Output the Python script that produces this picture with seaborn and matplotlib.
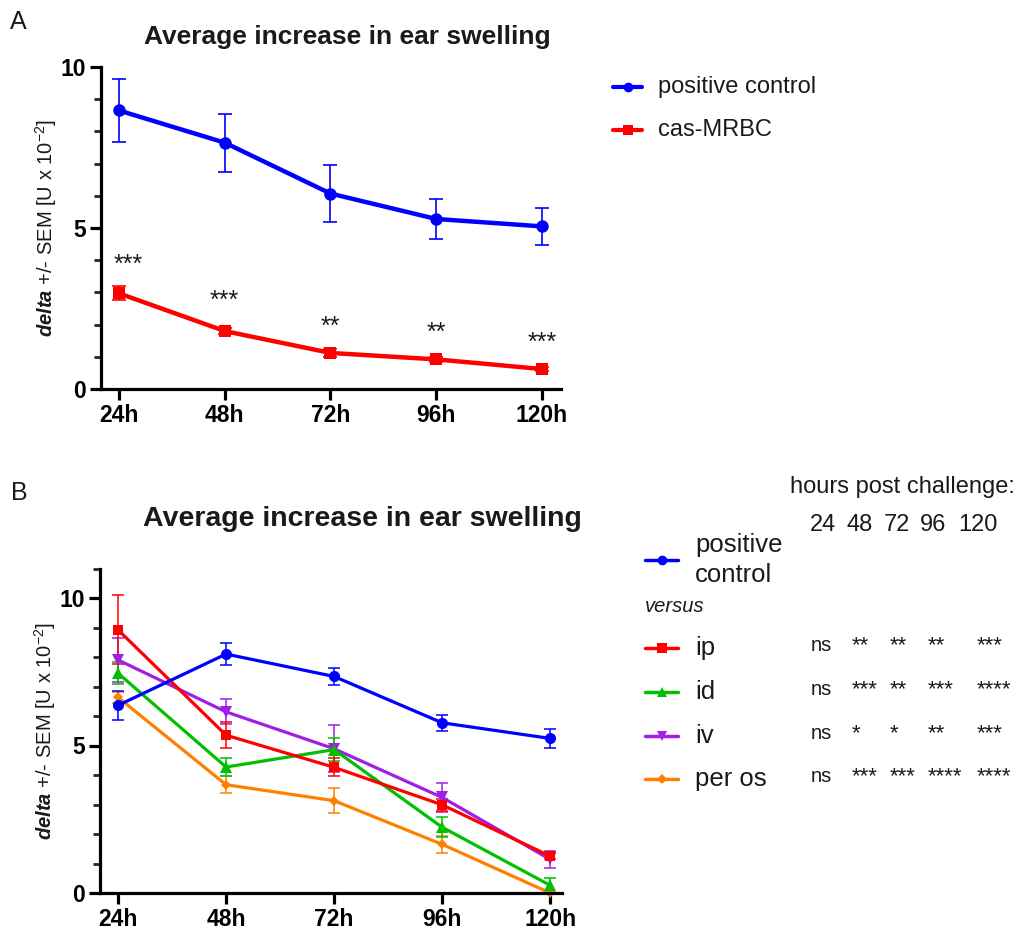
import numpy as np
import pandas as pd
import matplotlib
matplotlib.use("Agg")
import matplotlib.pyplot as plt
import seaborn as sns
from matplotlib.lines import Line2D
from matplotlib.ticker import MultipleLocator, FixedLocator

# ---------------- data ----------------
times = ["24h", "48h", "72h", "96h", "120h"]

# Panel A
a_groups = ["positive control", "cas-MRBC"]
a_pos_mean = [8.65, 7.65, 6.07, 5.28, 5.05]
a_pos_sem = [0.97, 0.90, 0.88, 0.62, 0.58]
a_cas_mean = [2.97, 1.80, 1.12, 0.92, 0.62]
a_cas_sem = [0.22, 0.08, 0.12, 0.07, 0.06]
a_stars = ["***", "***", "**", "**", "***"]
a_star_y = [4.07, 2.95, 2.14, 1.96, 1.65]

# Panel B
b_groups = ["positive control", "ip", "id", "iv", "per os"]
b_pos_mean = [6.36, 8.10, 7.34, 5.77, 5.24]
b_pos_sem = [0.48, 0.37, 0.30, 0.27, 0.33]
b_ip_mean = [8.92, 5.35, 4.26, 2.99, 1.25]
b_ip_sem = [1.17, 0.43, 0.30, 0.20, 0.10]
b_id_mean = [7.45, 4.27, 4.86, 2.23, 0.26]
b_id_sem = [0.38, 0.30, 0.39, 0.33, 0.26]
b_iv_mean = [7.90, 6.14, 4.89, 3.24, 1.14]
b_iv_sem = [0.75, 0.42, 0.80, 0.50, 0.30]
b_os_mean = [6.63, 3.67, 3.13, 1.65, 0.00]
b_os_sem = [0.20, 0.28, 0.42, 0.29, 0.05]

hours = ["24", "48", "72", "96", "120"]
sig_ip = ["ns", "**", "**", "**", "***"]
sig_id = ["ns", "***", "**", "***", "****"]
sig_iv = ["ns", "*", "*", "**", "***"]
sig_os = ["ns", "***", "***", "****", "****"]

# ---------------- style ----------------
sns.set_style("ticks")
plt.rcParams["font.family"] = ["Liberation Sans", "DejaVu Sans"]
plt.rcParams["mathtext.fontset"] = "custom"
plt.rcParams["mathtext.rm"] = "Liberation Sans"
plt.rcParams["mathtext.it"] = "Liberation Sans:italic"
plt.rcParams["mathtext.bf"] = "Liberation Sans:bold"
plt.rcParams["mathtext.bfit"] = "Liberation Sans:italic:bold"

BLUE = "#0000ff"
RED = "#ff0000"
GREEN = "#00c000"
PURPLE = "#a01ee6"
ORANGE = "#ff8000"
TXT = "#1a1a1a"

W, H = 1019, 935
fig = plt.figure(figsize=(W / 100, H / 100), dpi=100)


def fx(x):
    return x / W


def fy(y):
    return 1 - y / H


def make_df(groups, means, sems):
    rows = []
    for g, m, s in zip(groups, means, sems):
        for i, t in enumerate(times):
            rows.append({"group": g, "time": t, "pos": i, "mean": m[i], "sem": s[i]})
    return pd.DataFrame(rows)


def style_axis(ax, ylim_top):
    for sp in ["top", "right"]:
        ax.spines[sp].set_visible(False)
    for sp in ["left", "bottom"]:
        ax.spines[sp].set_linewidth(2.3)
        ax.spines[sp].set_color("black")
    ax.set_xticks(range(len(times)))
    ax.set_xticklabels(times, fontsize=16.5, fontweight="bold")
    ax.yaxis.set_major_locator(FixedLocator([0, 5, 10]))
    ax.yaxis.set_minor_locator(MultipleLocator(1))
    ax.set_ylim(0, ylim_top)
    for lab in ax.get_yticklabels():
        lab.set_fontweight("bold")
        lab.set_fontsize(16.5)
    ax.tick_params(axis="both", which="major", length=8, width=2.3, direction="out", pad=3, colors="black")
    ax.tick_params(axis="y", which="minor", length=5, width=2.0, direction="out")
    ax.tick_params(axis="x", which="minor", length=0)
    ax.set_xlabel("")
    ax.set_ylabel(r"$\mathbfit{delta}$ +/- SEM [U x 10$^{-2}$]", fontsize=14.5, color=TXT, labelpad=1)


def draw(ax, df, order, palette, markers, sizes, lw, elw, cap):
    sns.lineplot(data=df, x="pos", y="mean", hue="group", style="group",
                 hue_order=order, style_order=order, palette=palette,
                 markers=markers, dashes=False, linewidth=lw, markersize=8,
                 markeredgewidth=0, errorbar=None, legend=False, ax=ax, clip_on=False)
    for line, g in zip(ax.get_lines()[-len(order):], order):
        line.set_markersize(sizes[g])
    for g in order:
        sub = df[df["group"] == g]
        ax.errorbar(sub["pos"], sub["mean"], yerr=sub["sem"], fmt="none",
                    ecolor=palette[g], elinewidth=elw, capsize=cap, capthick=elw,
                    zorder=1.5, clip_on=False)


# ---------------- Panel A ----------------
axA = fig.add_axes([fx(101), fy(389), fx(460), 322 / H])
dfA = make_df(a_groups, [a_pos_mean, a_cas_mean], [a_pos_sem, a_cas_sem])
palA = {"positive control": BLUE, "cas-MRBC": RED}
draw(axA, dfA, ["cas-MRBC", "positive control"], palA,
     {"positive control": "o", "cas-MRBC": "s"},
     {"positive control": 9, "cas-MRBC": 8}, lw=3.2, elw=1.2, cap=5)
axA.set_xlim(-0.17, 4.18)
style_axis(axA, 10)
star_dx = [7, 0, 0, 0, 0]
for i, (s, yv) in enumerate(zip(a_stars, a_star_y)):
    axA.annotate(s, (i, yv), xytext=(star_dx[i], -10), textcoords="offset points",
                 ha="center", va="baseline", fontsize=18, color=TXT)

fig.text(fx(347), fy(37), "Average increase in ear swelling", ha="center", va="center",
         fontsize=19, fontweight="bold", color=TXT)
fig.text(fx(18), fy(22), "A", ha="center", va="center", fontsize=18, color=TXT)

# legend A
for lab, col, mk, ms, yy in [("positive control", BLUE, "o", 7, 87), ("cas-MRBC", RED, "s", 6.5, 130)]:
    fig.add_artist(Line2D([fx(613), fx(642)], [fy(yy), fy(yy)], color=col, lw=3,
                          transform=fig.transFigure))
    fig.add_artist(Line2D([fx(627.5)], [fy(yy)], marker=mk, ms=ms, color=col, mew=0,
                          transform=fig.transFigure))
    fig.text(fx(658), fy(yy), lab, ha="left", va="center", fontsize=17, color=TXT)

# ---------------- Panel B ----------------
axB = fig.add_axes([fx(100), fy(893), fx(462), 324.5 / H])
dfB = make_df(b_groups, [b_pos_mean, b_ip_mean, b_id_mean, b_iv_mean, b_os_mean],
              [b_pos_sem, b_ip_sem, b_id_sem, b_iv_sem, b_os_sem])
palB = {"positive control": BLUE, "ip": RED, "id": GREEN, "iv": PURPLE, "per os": ORANGE}
mkB = {"positive control": "o", "ip": "s", "id": "^", "iv": "v", "per os": "D"}
szB = {"positive control": 8, "ip": 7.5, "id": 8, "iv": 8, "per os": 5.5}
draw(axB, dfB, ["per os", "iv", "id", "ip", "positive control"], palB, mkB, szB,
     lw=2.3, elw=1.1, cap=4)
axB.set_xlim(-0.167, 4.11)
style_axis(axB, 11)

fig.text(fx(362), fy(519), "Average increase in ear swelling", ha="center", va="center",
         fontsize=20.5, fontweight="bold", color=TXT)
fig.text(fx(19), fy(493), "B", ha="center", va="center", fontsize=18, color=TXT)

# legend B and significance table
fig.text(fx(790), fy(487), "hours post challenge:", ha="left", va="center", fontsize=17, color=TXT)
for hx, hlab in zip([823, 860, 897, 933, 978], hours):
    fig.text(fx(hx), fy(525), hlab, ha="center", va="center", fontsize=17, color=TXT)

fig.text(fx(645), fy(607), "versus", ha="left", va="center", fontsize=14.5,
         style="italic", color=TXT)

leg_rows = [("positive\ncontrol", "positive control", 560, None),
            ("ip", "ip", 648, sig_ip),
            ("id", "id", 692, sig_id),
            ("iv", "iv", 736, sig_iv),
            ("per os", "per os", 779, sig_os)]
leg_ms = {"positive control": 7, "ip": 7, "id": 7, "iv": 7, "per os": 5}
for text, g, yy, sig in leg_rows:
    col = palB[g]
    fig.add_artist(Line2D([fx(645), fx(678)], [fy(yy), fy(yy)], color=col, lw=2.5,
                          transform=fig.transFigure))
    fig.add_artist(Line2D([fx(661.5)], [fy(yy)], marker=mkB[g], ms=leg_ms[g], color=col, mew=0,
                          transform=fig.transFigure))
    fig.text(fx(695), fy(yy), text, ha="left", va="center", fontsize=18.5, color=TXT,
             linespacing=1.3)
    if sig is not None:
        for sx, s in zip([811, 852, 890, 928, 977], sig):
            fig.text(fx(sx), fy(yy + 3), s, ha="left", va="baseline",
                     fontsize=14.5 if s == "ns" else 16, color=TXT)

fig.savefig("out.png", dpi=100)
